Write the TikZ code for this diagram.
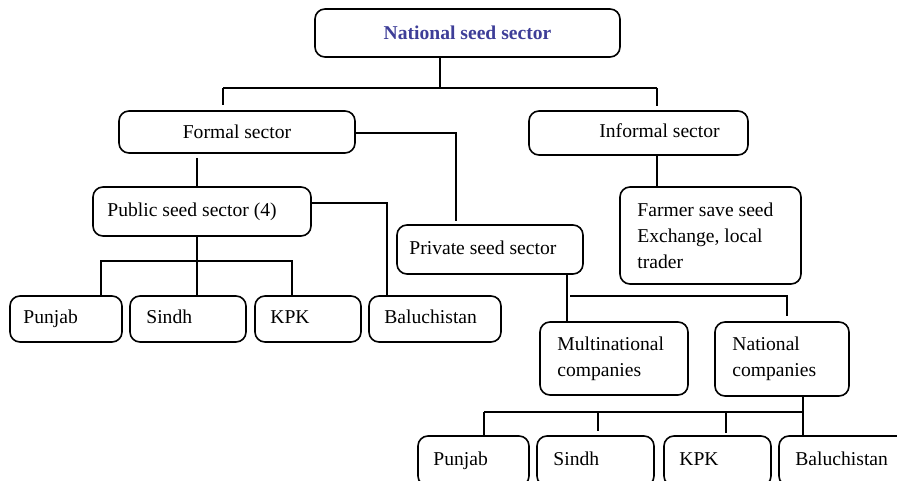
\documentclass[tikz,border=0pt]{standalone}
\usepackage{fontspec}
\setmainfont{Liberation Serif}
\usetikzlibrary{calc}
\definecolor{titleblue}{RGB}{62,62,152}
\begin{document}
\begin{tikzpicture}[x=1pt,y=-1pt,
  box/.style={draw, rounded corners=10pt, line width=1.6pt, inner sep=0pt},
  txt/.style={font=\fontsize{19.6}{26}\selectfont},
  lbl/.style={anchor=west, inner sep=0pt, align=left, txt},
  one/.style={lbl, text height=13.5pt, text depth=4.2pt},
  link/.style={line width=1.1pt},
  heavy/.style={line width=2pt}]
\clip (0,0) rectangle (897,481);

% top level
\node[box, txt, text=titleblue, minimum width=305, minimum height=48] (nat) at (467.5,33) {\bfseries National seed sector};
\node[box, txt, minimum width=236, minimum height=42] (formal) at (237,132) {Formal sector};
\node[box, minimum width=219, minimum height=44, label={[one, xshift=71pt]west:Informal sector}] (informal) at (638.5,133) {};

% second level
\node[box, minimum width=218, minimum height=49, label={[one, xshift=15pt]west:Public seed sector (4)}] (public) at (202,211.5) {};
\node[box, minimum width=186, minimum height=49, label={[one, xshift=13pt]west:Private seed sector}] (private) at (490,249.5) {};
\node[box, minimum width=181, minimum height=97, label={[lbl, xshift=18pt]west:Farmer save seed\\Exchange, local\\trader}] (farmer) at (710.5,235.5) {};

% provinces under the public sector
\node[box, minimum width=112, minimum height=46, label={[one, xshift=14pt]west:Punjab}] (p1) at (66,319) {};
\node[box, minimum width=116, minimum height=46, label={[one, xshift=17pt]west:Sindh}] (s1) at (188,319) {};
\node[box, minimum width=106, minimum height=46, label={[one, xshift=16pt]west:KPK}] (k1) at (308,319) {};
\node[box, minimum width=132, minimum height=46, label={[one, xshift=16pt]west:Baluchistan}] (b1) at (435,319) {};

% companies
\node[box, minimum width=148, minimum height=73, label={[lbl, xshift=18pt]west:Multinational\\companies}] (multi) at (614,358.5) {};
\node[box, minimum width=134, minimum height=74, label={[lbl, xshift=18pt]west:National\\companies}] (natco) at (782,359) {};

% provinces under national companies
\node[box, minimum width=111, minimum height=50, label={[one, xshift=16pt]west:Punjab}] (p2) at (473.5,461) {};
\node[box, minimum width=117, minimum height=50, label={[one, xshift=17pt]west:Sindh}] (s2) at (595.5,461) {};
\node[box, minimum width=107, minimum height=50, label={[one, xshift=16pt]west:KPK}] (k2) at (717.5,461) {};
\node[box, minimum width=136, minimum height=50, label={[one, xshift=17pt]west:Baluchistan}] (b2) at (847,461) {};

% national seed sector -> formal / informal
\coordinate (tb) at (440,88);
\coordinate (lf) at (223,88);
\coordinate (rt) at (657,88);
\draw[link] (nat.south -| tb) -- (tb);
\draw[link] (lf) -- (rt);
\draw[link] (lf) -- ($(formal.north -| lf)+(0,-5)$);
\draw[link] (rt) -- ($(informal.north -| rt)+(0,-4)$);

% formal sector -> public / private
\coordinate (fp) at (456,133);
\draw[link] (formal.east |- fp) -- (fp) -- ($(private.north -| fp)+(0,-3)$);
\coordinate (fb) at (197,157);
\draw[link] ($(formal.south -| fb)+(0,4)$) -- (public.north -| fb);

% public sector -> provinces
\coordinate (pb) at (387,203);
\draw[heavy] (public.east |- pb) -- (pb) -- (b1.north -| pb);
\coordinate (pc) at (197,261);
\coordinate (pl) at (101,261);
\coordinate (pr) at (292,261);
\draw[heavy] (public.south -| pc) -- (s1.north -| pc);
\draw[heavy] (p1.north -| pl) -- (pl) -- (pr) -- (k1.north -| pr);

% informal sector -> farmer seed
\draw[link] (informal.south -| rt) -- (farmer.north -| rt);

% private sector -> companies
\coordinate (pv) at (567,296);
\coordinate (nb) at (787,296);
\draw[heavy] (private.south -| pv) -- (multi.north -| pv);
\draw[link] ($(pv)+(3,0)$) -- (nb) -- ($(natco.north -| nb)+(0,-5)$);

% national companies -> provinces
\coordinate (nc) at (803,412);
\coordinate (nl) at (484,412);
\coordinate (ns) at (598,412);
\coordinate (nk) at (726,412);
\draw[link] (natco.south -| nc) -- (b2.north -| nc);
\draw[link] (nl) -- (nc);
\draw[link] (nl) -- (p2.north -| nl);
\draw[link] (ns) -- ($(s2.north -| ns)+(0,-4)$);
\draw[link] (nk) -- ($(k2.north -| nk)+(0,-2)$);
\end{tikzpicture}
\end{document}
